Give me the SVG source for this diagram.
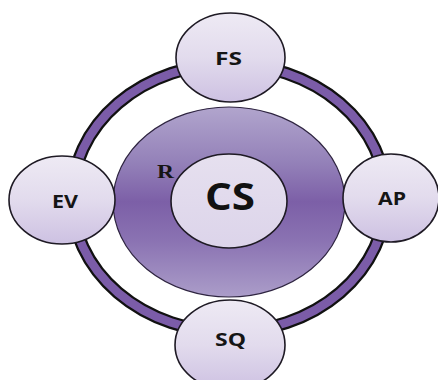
<svg xmlns="http://www.w3.org/2000/svg" width="438" height="380" viewBox="0 0 438 380">
<defs>
<linearGradient id="sat" x1="0" y1="0" x2="0" y2="1">
<stop offset="0" stop-color="#eeeaf4"/>
<stop offset="0.5" stop-color="#e2dbed"/>
<stop offset="1" stop-color="#cdc1e2"/>
</linearGradient>
<linearGradient id="big" x1="0" y1="0" x2="0" y2="1">
<stop offset="0" stop-color="#b1a5cd"/>
<stop offset="0.3" stop-color="#9380b8"/>
<stop offset="0.5" stop-color="#7c5fa7"/>
<stop offset="0.7" stop-color="#8a72b2"/>
<stop offset="1" stop-color="#ab9dc9"/>
</linearGradient>
<linearGradient id="core" x1="0" y1="0" x2="0" y2="1">
<stop offset="0" stop-color="#e6e0ef"/>
<stop offset="1" stop-color="#dcd4ea"/>
</linearGradient>
</defs>
<style>
.sat{fill:url(#sat);stroke:#1e1a24;stroke-width:1.6}
.lbl{font-family:"Open Sans","DejaVu Sans",sans-serif;font-weight:bold;font-size:17px;fill:#151515;text-anchor:middle}
.ringO{fill:none;stroke:#111;stroke-width:13}
.ringI{fill:none;stroke:#7b5ca8;stroke-width:8.5}
</style>
<g id="connectors">
<ellipse class="ringO" cx="229" cy="198" rx="157" ry="134"/>
<ellipse class="ringI" cx="229" cy="198" rx="157" ry="134"/>
</g>
<g id="R">
<ellipse cx="229" cy="202" rx="116" ry="95" fill="url(#big)" stroke="#2e2440" stroke-width="1.2"/>
<text x="165.5" y="178" font-family="Liberation Serif, serif" font-weight="bold" font-size="19" fill="#151515" text-anchor="middle" textLength="17" lengthAdjust="spacingAndGlyphs">R</text>
</g>
<g id="CS">
<ellipse cx="229" cy="201" rx="58" ry="47" fill="url(#core)" stroke="#1e1a24" stroke-width="1.6"/>
<text x="230" y="210" font-family="Open Sans, DejaVu Sans, sans-serif" font-weight="bold" font-size="38" fill="#111" text-anchor="middle" textLength="50" lengthAdjust="spacingAndGlyphs">CS</text>
</g>
<g id="FS">
<ellipse class="sat" cx="230.5" cy="57.5" rx="54.5" ry="44.5"/>
<text class="lbl" x="228.5" y="65" textLength="27" lengthAdjust="spacingAndGlyphs">FS</text>
</g>
<g id="EV">
<ellipse class="sat" cx="62" cy="200" rx="53" ry="44"/>
<text class="lbl" x="65" y="208" textLength="26" lengthAdjust="spacingAndGlyphs">EV</text>
</g>
<g id="AP">
<ellipse class="sat" cx="391" cy="198" rx="48" ry="44"/>
<text class="lbl" x="392" y="205" textLength="28" lengthAdjust="spacingAndGlyphs">AP</text>
</g>
<g id="SQ">
<ellipse class="sat" cx="230" cy="345" rx="55" ry="45"/>
<text class="lbl" x="230.5" y="346" textLength="31" lengthAdjust="spacingAndGlyphs">SQ</text>
</g>
</svg>
